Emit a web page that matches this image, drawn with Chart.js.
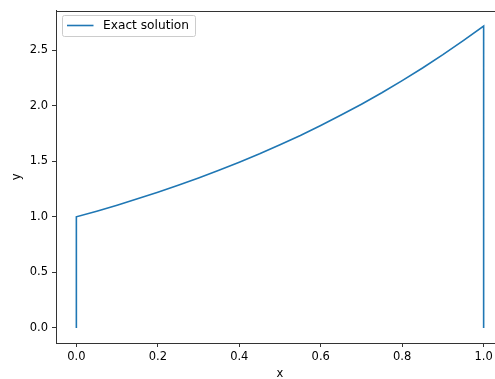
<!DOCTYPE html>
<html>
<head>
<meta charset="utf-8">
<script src="https://cdn.jsdelivr.net/npm/chart.js@4/dist/chart.umd.min.js"></script>
<style>
  html, body { margin: 0; padding: 0; background: #fff; overflow: hidden; }
  #wrap { width: 510px; height: 379px; }
</style>
</head>
<body>
<div id="wrap"><canvas id="c" width="510" height="379"></canvas></div>
<script>
// Sampled curve: x positions and solution values
const xValues = [0, 0, 0.05, 0.1, 0.15, 0.2, 0.25, 0.3, 0.35, 0.4, 0.45, 0.5,
                 0.55, 0.6, 0.65, 0.7, 0.75, 0.8, 0.85, 0.9, 0.95, 1.0, 1.0];
const yValues = [0, 1.000, 1.051, 1.105, 1.162, 1.221, 1.284, 1.350, 1.419, 1.492, 1.568, 1.649,
                 1.733, 1.822, 1.916, 2.014, 2.117, 2.226, 2.340, 2.460, 2.586, 2.718, 0];
const seriesLabel = 'Exact solution';
const xTickValues = [0, 0.2, 0.4, 0.6, 0.8, 1.0];
const yTickValues = [0, 0.5, 1.0, 1.5, 2.0, 2.5];
const xTitle = 'x';
const yTitle = 'y';

const FONT = '"DejaVu Sans", sans-serif';
const FSIZE = 11.5;
const LEGEND_FSIZE = 12.2;
const LINE = '#1f77b4';
const SPINE = '#333333';

const points = xValues.map((x, i) => ({ x: x, y: yValues[i] }));

// Top spine, axis titles and legend box
const decorations = {
  id: 'decorations',
  afterDraw(chart) {
    const ctx = chart.ctx;
    const a = chart.chartArea;
    ctx.save();
    ctx.strokeStyle = SPINE;
    ctx.lineWidth = 1;
    ctx.beginPath();
    ctx.moveTo(a.left, Math.round(a.top) + 0.5);
    ctx.lineTo(a.right, Math.round(a.top) + 0.5);
    ctx.stroke();

    ctx.fillStyle = '#000';
    ctx.font = FSIZE + 'px ' + FONT;
    ctx.textAlign = 'center';
    ctx.textBaseline = 'middle';
    ctx.fillText(xTitle, (a.left + a.right) / 2, 374);
    ctx.translate(17, (a.top + a.bottom) / 2);
    ctx.rotate(-Math.PI / 2);
    ctx.fillText(yTitle, 0, 0);
    ctx.restore();

    // legend
    ctx.save();
    const bx = 62.5, by = 15.5, bw = 133, bh = 21;
    ctx.beginPath();
    const r = 2;
    ctx.moveTo(bx + r, by);
    ctx.lineTo(bx + bw - r, by);
    ctx.arcTo(bx + bw, by, bx + bw, by + r, r);
    ctx.lineTo(bx + bw, by + bh - r);
    ctx.arcTo(bx + bw, by + bh, bx + bw - r, by + bh, r);
    ctx.lineTo(bx + r, by + bh);
    ctx.arcTo(bx, by + bh, bx, by + bh - r, r);
    ctx.lineTo(bx, by + r);
    ctx.arcTo(bx, by, bx + r, by, r);
    ctx.closePath();
    ctx.fillStyle = 'rgba(255,255,255,0.8)';
    ctx.fill();
    ctx.strokeStyle = '#cccccc';
    ctx.lineWidth = 1;
    ctx.stroke();
    ctx.beginPath();
    ctx.moveTo(67, 25.5);
    ctx.lineTo(93.5, 25.5);
    ctx.strokeStyle = LINE;
    ctx.lineWidth = 1.6;
    ctx.stroke();
    ctx.fillStyle = '#000';
    ctx.font = LEGEND_FSIZE + 'px ' + FONT;
    ctx.textAlign = 'left';
    ctx.textBaseline = 'middle';
    ctx.fillText(chart.data.datasets[0].label, 103, 26);
    ctx.restore();
  }
};

new Chart(document.getElementById('c'), {
  type: 'scatter',
  data: {
    datasets: [{
      label: seriesLabel,
      data: points,
      showLine: true,
      borderColor: LINE,
      backgroundColor: LINE,
      borderWidth: 1.6,
      pointRadius: 0,
      tension: 0,
      fill: false
    }]
  },
  options: {
    responsive: false,
    animation: false,
    events: [],
    layout: { padding: { left: 0, top: 8, right: 6, bottom: 0 } },
    plugins: { legend: { display: false }, tooltip: { enabled: false } },
    scales: {
      x: {
        type: 'linear',
        min: -0.05,
        max: 1.05,
        afterBuildTicks: s => { s.ticks = xTickValues.map(v => ({ value: v })); },
        afterFit: s => { s.height = 36; },
        border: { display: true, color: SPINE, width: 1 },
        grid: { display: true, drawOnChartArea: false, drawTicks: true, tickLength: 4, color: SPINE, tickColor: SPINE },
        ticks: {
          color: '#000',
          padding: 3,
          maxRotation: 0,
          autoSkip: false,
          font: { family: FONT, size: FSIZE },
          callback: v => Number(v).toFixed(1)
        }
      },
      y: {
        type: 'linear',
        min: -0.136,
        max: 2.854,
        afterBuildTicks: s => { s.ticks = yTickValues.map(v => ({ value: v })); },
        afterFit: s => { s.width = 56; },
        border: { display: true, color: SPINE, width: 1 },
        grid: { display: true, drawOnChartArea: false, drawTicks: true, tickLength: 4, color: SPINE, tickColor: SPINE },
        ticks: {
          color: '#000',
          padding: 4,
          autoSkip: false,
          font: { family: FONT, size: FSIZE },
          callback: v => Number(v).toFixed(1)
        }
      }
    }
  },
  plugins: [decorations]
});
</script>
</body>
</html>
